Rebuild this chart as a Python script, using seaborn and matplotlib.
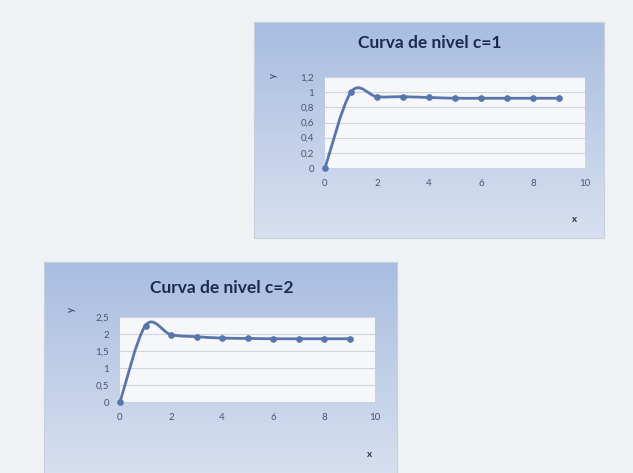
import numpy as np
import seaborn as sns
import matplotlib.pyplot as plt
from matplotlib.path import Path
from matplotlib.patches import PathPatch
from matplotlib.colors import LinearSegmentedColormap

# data
x_vals = [0, 1, 2, 3, 4, 5, 6, 7, 8, 9]
y_c1 = [0, 1.0, 0.94, 0.94, 0.93, 0.92, 0.92, 0.92, 0.92, 0.92]
y_c2 = [0, 2.25, 1.98, 1.92, 1.88, 1.87, 1.86, 1.86, 1.86, 1.86]
titles = ['Curva de nivel c=1', 'Curva de nivel c=2']
y_ticks_c1 = [0, 0.2, 0.4, 0.6, 0.8, 1, 1.2]
y_labels_c1 = ['0', '0,2', '0,4', '0,6', '0,8', '1', '1,2']
y_ticks_c2 = [0, 0.5, 1, 1.5, 2, 2.5]
y_labels_c2 = ['0', '0,5', '1', '1,5', '2', '2,5']
x_ticks = [0, 2, 4, 6, 8, 10]

sns.set_style('white')
plt.rcParams['font.family'] = ['Lato', 'DejaVu Sans']

W, H = 633, 473
fig = plt.figure(figsize=(W / 100, H / 100), dpi=100)
fig.patch.set_facecolor('#eff1f5')

line_col = '#5876ad'
grad = np.linspace(0, 1, 256).reshape(-1, 1)
cmap = LinearSegmentedColormap.from_list('bg', ['#a8bde0', '#d8e0ef'])


def px(x0, y0, x1, y1):
    return [x0 / W, 1 - y1 / H, (x1 - x0) / W, (y1 - y0) / H]


def smooth_path(xs, ys, t=1 / 6):
    # Excel-like smoothed line: cubic bezier through the points
    pts = np.column_stack([xs, ys]).astype(float)
    verts = [pts[0]]
    codes = [Path.MOVETO]
    n = len(pts)
    for i in range(n - 1):
        p0 = pts[max(i - 1, 0)]
        p1 = pts[i]
        p2 = pts[i + 1]
        p3 = pts[min(i + 2, n - 1)]
        c1 = p1 + (p2 - p0) * t
        c2 = p2 - (p3 - p1) * t
        verts += [c1, c2, p2]
        codes += [Path.CURVE4] * 3
    return Path(verts, codes)


def chart(box, plot, ys, title, yt, yl, ymax, title_xy, ylab_xy, xlab_xy):
    bg = fig.add_axes(px(*box))
    bg.imshow(grad, aspect='auto', cmap=cmap, extent=[0, 1, 0, 1])
    bg.set_xticks([])
    bg.set_yticks([])
    for s in bg.spines.values():
        s.set_color('#c8cfdc')
        s.set_linewidth(0.8)

    ax = fig.add_axes(px(*plot))
    ax.set_facecolor('#f6f7fb')
    ax.set_xlim(0, 10)
    ax.set_ylim(0, ymax)
    ax.set_yticks(yt)
    ax.set_yticklabels(yl)
    ax.set_xticks(x_ticks)
    ax.tick_params(length=0, labelsize=7, colors='#4a5570', pad=8)
    ax.yaxis.grid(True, color='#cfd3dc', linewidth=0.8)
    ax.xaxis.grid(False)
    for s in ax.spines.values():
        s.set_visible(False)
    ax.add_patch(PathPatch(smooth_path(x_vals, ys), facecolor='none',
                           edgecolor=line_col, linewidth=2.0, zorder=3,
                           clip_on=False))
    sns.lineplot(x=x_vals, y=ys, ax=ax, linestyle='none', marker='o',
                 markersize=4, color=line_col, markeredgecolor=line_col,
                 zorder=4, clip_on=False)
    ax.set_xlabel('')
    ax.set_ylabel('')

    fig.text(title_xy[0] / W, 1 - title_xy[1] / H, title, ha='center', va='center',
             fontsize=12.5, fontweight='bold', color='#1c2a4e')
    fig.text(ylab_xy[0] / W, 1 - ylab_xy[1] / H, 'y', ha='center', va='center',
             fontsize=7, rotation=90, color='#2a3550')
    fig.text(xlab_xy[0] / W, 1 - xlab_xy[1] / H, 'x', ha='center', va='center',
             fontsize=7, fontweight='bold', color='#2a3550')


chart((254, 22, 604, 238), (325, 77, 585, 168), y_c1, titles[0],
      y_ticks_c1, y_labels_c1, 1.2, (430, 43), (273, 75), (575, 219))
chart((44, 262, 397, 478), (120, 317, 375, 402), y_c2, titles[1],
      y_ticks_c2, y_labels_c2, 2.5, (222, 288), (71, 310), (370, 454))

fig.savefig('out.png', dpi=100, facecolor=fig.get_facecolor())
